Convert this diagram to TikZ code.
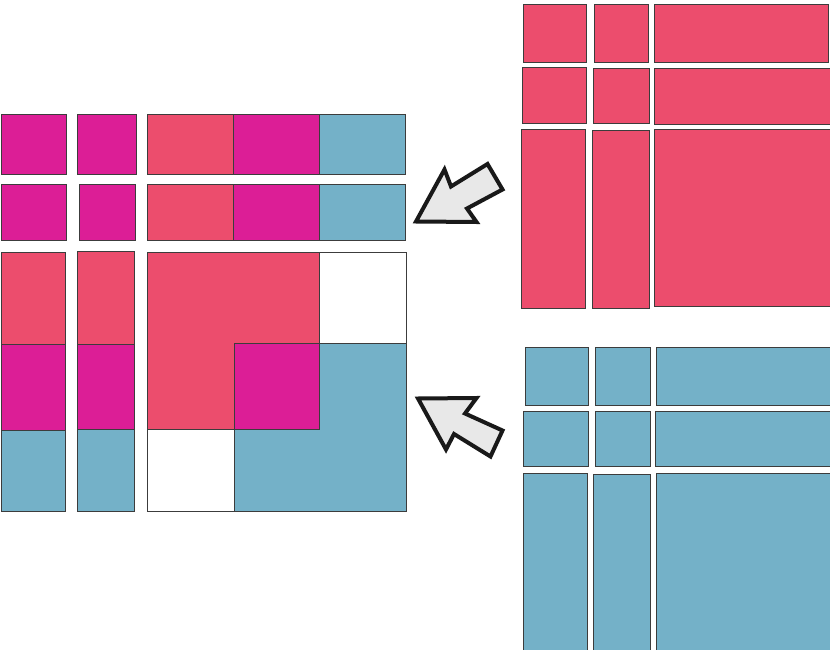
\documentclass[tikz,border=0pt]{standalone}
\definecolor{cred}{RGB}{236,77,109}
\definecolor{cmag}{RGB}{220,30,150}
\definecolor{cblue}{RGB}{116,177,200}
\definecolor{cgrayfill}{RGB}{232,232,232}
\definecolor{cedge}{RGB}{60,60,60}
\tikzset{
  base/.style={draw=cedge,line width=1pt},
  rbox/.style={base,fill=cred},
  mbox/.style={base,fill=cmag},
  bbox/.style={base,fill=cblue},
  wbox/.style={base,fill=white},
  bigarrow/.style={draw=black!90,fill=cgrayfill,line width=4pt,line join=miter}
}
\begin{document}
\begin{tikzpicture}[x=1pt,y=-1pt]
\useasboundingbox[fill=white] (0,0) rectangle (830,650);
% ---------- left combined matrix ----------
% row 1
\draw[mbox] (1,115) rectangle (66.5,174);
\draw[mbox] (77,115) rectangle (136,174);
\draw[rbox] (147,115) rectangle (233,174);
\draw[mbox] (233,115) rectangle (319,174);
\draw[bbox] (319,115) rectangle (405.5,174);
% row 2
\draw[mbox] (1.5,184) rectangle (66.5,240.5);
\draw[mbox] (79,184) rectangle (135,240.5);
\draw[rbox] (147,184) rectangle (233,240.5);
\draw[mbox] (233,184) rectangle (319,240.5);
\draw[bbox] (319,184) rectangle (405.5,240.5);
% column 1
\draw[rbox] (1,252) rectangle (65,344.5);
\draw[mbox] (1,344.5) rectangle (65,430);
\draw[bbox] (1,430) rectangle (65,511.5);
% column 2
\draw[rbox] (77.5,251.5) rectangle (134.5,344);
\draw[mbox] (77.5,344) rectangle (134.5,429.5);
\draw[bbox] (77.5,429.5) rectangle (134.5,511);
% big block
\draw[wbox] (147,252) rectangle (406,511);
\fill[cred] (147,252) rectangle (319,429.5);
\fill[cblue] (234,343) rectangle (406,511);
\draw[mbox] (234,343) rectangle (319,429.5);
\draw[base] (319,252) -- (319,343) -- (406,343);
\draw[base] (147,429.5) -- (234,429.5) -- (234,511);
\draw[base] (147,252) rectangle (406,511);
% ---------- red matrix (top right) ----------
\draw[rbox] (523.5,4.5) rectangle (586,63);
\draw[rbox] (594,4.5) rectangle (648.5,63);
\draw[rbox] (654,4.5) rectangle (828.5,63);
\draw[rbox] (522,68) rectangle (586,123.5);
\draw[rbox] (593.5,68.5) rectangle (649,123.5);
\draw[rbox] (654.5,69) rectangle (831,124.5);
\draw[rbox] (521,129.5) rectangle (585.5,308);
\draw[rbox] (592,130.5) rectangle (649,308.5);
\draw[rbox] (654.5,129.5) rectangle (831,306.5);
% ---------- blue matrix (bottom right) ----------
\draw[bbox] (525.5,347) rectangle (588,405.5);
\draw[bbox] (595.5,347) rectangle (650.5,405.5);
\draw[bbox] (656.5,347) rectangle (831,405.5);
\draw[bbox] (523.5,411.5) rectangle (588,466.5);
\draw[bbox] (595,411.5) rectangle (650.5,466.5);
\draw[bbox] (655.5,411.5) rectangle (831,466.5);
\draw[bbox] (523,473) rectangle (587.5,652);
\draw[bbox] (593.5,474) rectangle (650.5,652);
\draw[bbox] (656,473) rectangle (831,652);
% ---------- arrows ----------
\draw[bigarrow] (416,221.5) -- (444.5,169.5) -- (451,186.5) -- (487.5,164) -- (502.5,189.5) -- (467,208.5) -- (476.5,222) -- cycle;
\draw[bigarrow] (418,398.5) -- (476.5,398) -- (465,413.5) -- (502.5,430.5) -- (490.5,456.5) -- (454,434) -- (446,449.5) -- cycle;
\end{tikzpicture}
\end{document}
